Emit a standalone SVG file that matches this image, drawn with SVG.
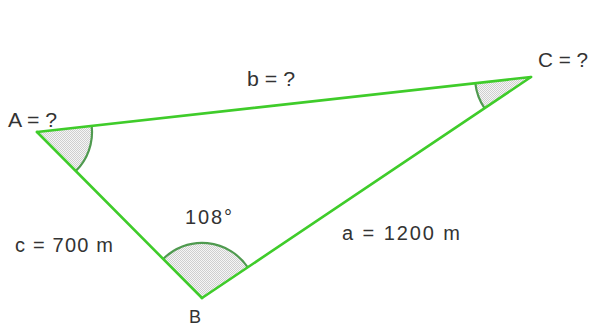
<svg xmlns="http://www.w3.org/2000/svg" width="590" height="328" viewBox="0 0 590 328">
  <defs>
    <pattern id="dots" width="2" height="2" patternUnits="userSpaceOnUse">
      <rect width="2" height="2" fill="#f6f6f6"/>
      <rect width="1" height="1" fill="#cfcfcf"/>
      <rect x="1" y="1" width="1" height="1" fill="#cfcfcf"/>
    </pattern>
  </defs>
  <style>
    .edge { stroke: #3fcc2a; stroke-width: 2.6; fill: none; stroke-linecap: round; }
    .sector { fill: url(#dots); stroke: none; }
    .arc { stroke: #4f9a4f; stroke-width: 2.2; fill: none; }
    .lbl { font-family: "Liberation Sans", Arial, sans-serif; font-size: 20px; fill: #333333; }
  </style>
  <rect width="590" height="328" fill="#ffffff"/>

  <g id="vertex-A">
    <path class="sector" d="M37,132 L91.7,125.9 A55,55 0 0 1 75.8,171 Z"/>
    <path class="arc" d="M91.7,125.9 A55,55 0 0 1 75.8,171"/>
    <text class="lbl" x="8" y="127" textLength="49" lengthAdjust="spacingAndGlyphs">A = ?</text>
  </g>

  <g id="vertex-C">
    <path class="sector" d="M531,77 L475.3,83.2 A56,56 0 0 0 484.5,108.2 Z"/>
    <path class="arc" d="M475.3,83.2 A56,56 0 0 0 484.5,108.2"/>
    <text class="lbl" x="538" y="67" textLength="50" lengthAdjust="spacingAndGlyphs">C = ?</text>
  </g>

  <g id="vertex-B">
    <path class="sector" d="M202,298 L163.2,259 A55,55 0 0 1 247.7,267.3 Z"/>
    <path class="arc" d="M163.2,259 A55,55 0 0 1 247.7,267.3"/>
    <text class="lbl" x="185" y="224" textLength="47" lengthAdjust="spacing">108°</text>
    <text class="lbl" x="189" y="323" style="font-size:18px">B</text>
  </g>

  <g id="connectors">
    <line class="edge" x1="37" y1="132" x2="531" y2="77"/>
    <line class="edge" x1="37" y1="132" x2="202" y2="298"/>
    <line class="edge" x1="202" y1="298" x2="531" y2="77"/>
    <text class="lbl" x="247" y="86" textLength="48" lengthAdjust="spacingAndGlyphs">b = ?</text>
    <text class="lbl" x="15" y="252" textLength="98" lengthAdjust="spacing">c = 700 m</text>
    <text class="lbl" x="342" y="240" textLength="118" lengthAdjust="spacing">a = 1200 m</text>
  </g>
</svg>
